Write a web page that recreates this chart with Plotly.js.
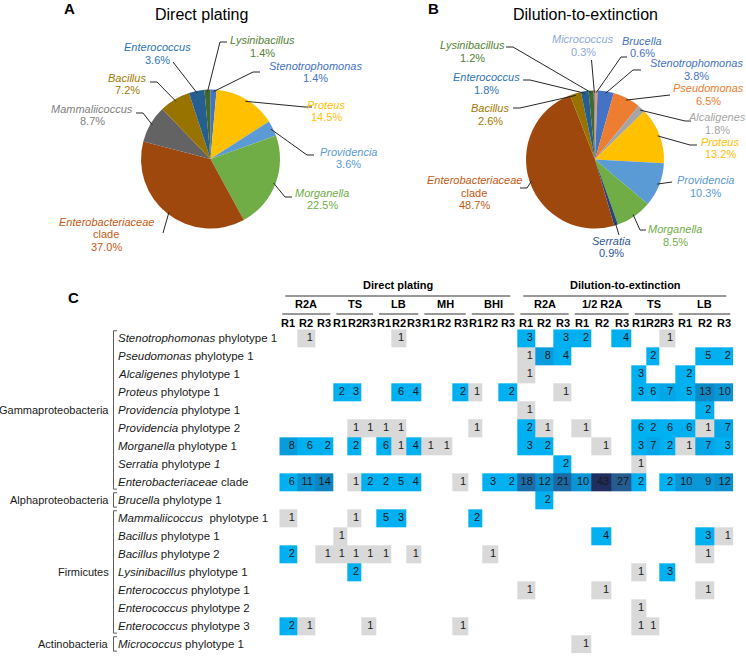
<!DOCTYPE html>
<html><head><meta charset="utf-8">
<script src="https://cdn.plot.ly/plotly-3.0.1.min.js"></script>
<style>html,body{margin:0;padding:0;background:#fff;} #chart{width:746px;height:656px;}</style>
</head><body><div id="chart"></div>
<script>
// ================= DATA =================
// Pie A: Direct plating (% of isolates), clockwise from 12 o'clock
const pieALabels = ['Stenotrophomonas','Proteus','Providencia','Morganella','Enterobacteriaceae','Mammaliicoccus','Bacillus','Enterococcus','Lysinibacillus'];
const pieAValues = [1.4, 14.5, 3.6, 22.5, 37.0, 8.7, 7.2, 3.6, 1.4];
// Pie B: Dilution-to-extinction
const pieBLabels = ['Brucella','Stenotrophomonas','Pseudomonas','Alcaligenes','Proteus','Providencia','Morganella','Serratia','Enterobacteriaceae','Bacillus','Enterococcus','Lysinibacillus','Micrococcus'];
const pieBValues = [0.6, 3.8, 6.5, 1.8, 13.2, 10.3, 8.5, 0.9, 48.7, 2.6, 1.8, 1.2, 0.3];

// Heatmap columns
const methods = ['Direct plating','Dilution-to-extinction'];
const media = ['R2A','TS','LB','MH','BHI','R2A','1/2 R2A','TS','LB'];
const mediaMethod = [0,0,0,0,0,1,1,1,1];
const replicates = ['R1','R2','R3'];

// Heatmap rows
const rowGenus = ['Stenotrophomonas','Pseudomonas','Alcaligenes','Proteus','Providencia','Providencia','Morganella','Serratia','Enterobacteriaceae','Brucella','Mammaliicoccus','Bacillus','Bacillus','Lysinibacillus','Enterococcus','Enterococcus','Enterococcus','Micrococcus'];
const rowSuffix = [' phylotype 1',' phylotype 1',' phylotype 1',' phylotype 1',' phylotype 1',' phylotype 2',' phylotype 1',' phylotype <i>1</i>',' clade',' phylotype 1','  phylotype 1',' phylotype 1',' phylotype 2',' phylotype 1',' phylotype 1',' phylotype 2',' phylotype 3',' phylotype 1'];
const phyla = ['Gammaproteobacteria','Alphaproteobacteria','Firmicutes','Actinobacteria'];
const phylumFirstRow = [0, 9, 10, 17];
const phylumLastRow  = [8, 9, 16, 17];

// counts (rows x 27 columns; 0 = empty)
const counts = [
  [0,1,0, 0,0,0, 0,1,0, 0,0,0, 0,0,0, 3,0,3, 2,0,4, 0,0,1, 0,0,0],
  [0,0,0, 0,0,0, 0,0,0, 0,0,0, 0,0,0, 1,8,4, 0,0,0, 0,2,0, 0,5,2],
  [0,0,0, 0,0,0, 0,0,0, 0,0,0, 0,0,0, 1,0,0, 0,0,0, 3,0,0, 2,0,0],
  [0,0,0, 2,3,0, 0,6,4, 0,0,2, 1,0,2, 0,0,1, 0,0,0, 3,6,7, 5,13,10],
  [0,0,0, 0,0,0, 0,0,0, 0,0,0, 0,0,0, 1,0,0, 0,0,0, 0,0,0, 0,2,0],
  [0,0,0, 0,1,1, 1,1,0, 0,0,0, 1,0,0, 2,1,0, 1,0,0, 6,2,6, 6,1,7],
  [8,6,2, 0,2,0, 6,1,4, 1,1,0, 0,0,0, 3,2,0, 0,1,0, 3,7,2, 1,7,3],
  [0,0,0, 0,0,0, 0,0,0, 0,0,0, 0,0,0, 0,0,2, 0,0,0, 1,0,0, 0,0,0],
  [6,11,14, 0,1,2, 2,5,4, 0,0,1, 0,3,2, 18,12,21, 10,43,27, 2,0,2, 10,9,12],
  [0,0,0, 0,0,0, 0,0,0, 0,0,0, 0,0,0, 0,2,0, 0,0,0, 0,0,0, 0,0,0],
  [1,0,0, 0,1,0, 5,3,0, 0,0,0, 2,0,0, 0,0,0, 0,0,0, 0,0,0, 0,0,0],
  [0,0,0, 1,0,0, 0,0,0, 0,0,0, 0,0,0, 0,0,0, 0,4,0, 0,0,0, 0,3,1],
  [2,0,1, 1,1,1, 1,0,1, 0,0,0, 0,1,0, 0,0,0, 0,0,0, 0,0,0, 0,1,0],
  [0,0,0, 0,2,0, 0,0,0, 0,0,0, 0,0,0, 0,0,0, 0,0,0, 1,0,3, 0,0,0],
  [0,0,0, 0,0,0, 0,0,0, 0,0,0, 0,0,0, 1,0,0, 0,1,0, 0,0,0, 0,1,0],
  [0,0,0, 0,0,0, 0,0,0, 0,0,0, 0,0,0, 0,0,0, 0,0,0, 1,0,0, 0,0,0],
  [2,1,0, 0,0,1, 0,0,0, 0,0,1, 0,0,0, 0,0,0, 0,0,0, 1,1,0, 0,0,0],
  [0,0,0, 0,0,0, 0,0,0, 0,0,0, 0,0,0, 0,0,0, 1,0,0, 0,0,0, 0,0,0]
];

// ================= STYLE / LAYOUT =================
const W = 746, H = 656;
const FONT = 'Arial, "Liberation Sans", sans-serif';
const sliceColor = {
  Stenotrophomonas:'#4472C4', Pseudomonas:'#ED7D31', Alcaligenes:'#A5A5A5', Proteus:'#FFC000',
  Providencia:'#5B9BD5', Morganella:'#70AD47', Serratia:'#264478', Enterobacteriaceae:'#9E480E',
  Mammaliicoccus:'#636363', Bacillus:'#997300', Enterococcus:'#255E91', Lysinibacillus:'#43682B',
  Micrococcus:'#698ED0', Brucella:'#F1975A'
};
const labelColor = {
  Stenotrophomonas:'#4472C4', Pseudomonas:'#ED7D31', Alcaligenes:'#A5A5A5', Proteus:'#FFC000',
  Providencia:'#5B9BD5', Morganella:'#70AD47', Serratia:'#2F5597', Enterobacteriaceae:'#C55A11',
  Mammaliicoccus:'#7F7F7F', Bacillus:'#A07A00', Enterococcus:'#2E75B6', Lysinibacillus:'#548235',
  Micrococcus:'#8FAADC', Brucella:'#4472C4'
};
// pie geometry (pixels)
const pieA = {cx:210.5, cy:159, r:69.5};
const pieB = {cx:595, cy:159.5, r:69};
// label placement (pixels): [centre x, first-line y, leader tail x, tail y, elbow length]
const pieALabelPos = {
  Stenotrophomonas:[315,66, 253,72, 7], Proteus:[326,105, 305,107, 7], Providencia:[348,152, 307,155, 7],
  Morganella:[322,193, 285,197, 7], Enterobacteriaceae:[106,222, 163,233, 0], Mammaliicoccus:[92,109, 143,113, -7],
  Bacillus:[127,78, 157,82, -7], Enterococcus:[157,47, 173,62, 0], Lysinibacillus:[262,40, 220,42, 7]
};
const pieBLabelPos = {
  Brucella:[642,40.5, 621,57, 6], Stenotrophomonas:[696,63, 633,70, 8], Pseudomonas:[708,88.5, 670,95, 0],
  Alcaligenes:[717,117.5, 685,121, 6], Proteus:[720,141.5, 690,145, 7], Providencia:[705,180, 672,182, 0],
  Morganella:[675,229, 640,230, 6], Serratia:[611,240.5, 619,235, 0], Enterobacteriaceae:[474,180, 527,188, -7],
  Bacillus:[490,108, 520,108, -7], Enterococcus:[486,77, 530,80, -7], Lysinibacillus:[472,45, 513,47, -7],
  Micrococcus:[583,39.5, 591.5,60, 0]
};
const LINE_STEP = 12.5;
// heatmap column edges (pixels; table geometry)
const COL_EDGES = [279.3,297.3,315.3,333.3,347.3,361.7,376,391.7,406.7,421.3,436.3,452.3,468.7,482.7,498.7,517.3,535.3,553.3,571.7,591.7,611.7,631.7,646.7,659,675.7,695,714,733.3];
const GRID_TOP = 329.3, GRID_BOTTOM = 653.3;

const px = x => x / W;
const py = y => 1 - y / H;

// ================= BUILD =================
const data = [];
const annotations = [];
const shapes = [];

function addPie(labels, values, geo) {
  data.push({
    type:'pie', labels:labels, values:values, sort:false, direction:'clockwise', rotation:0,
    marker:{colors: labels.map(l => sliceColor[l]), line:{width:0}},
    textinfo:'none', hoverinfo:'skip', showlegend:false,
    domain:{x:[px(geo.cx-geo.r), px(geo.cx+geo.r)], y:[py(geo.cy+geo.r), py(geo.cy-geo.r)]}
  });
}
function addPieLabels(labels, values, geo, pos) {
  const total = values.reduce((a,b)=>a+b,0);
  let cum = 0;
  labels.forEach((l,i) => {
    const f = values[i]/total;
    const th = 2*Math.PI*(cum + f/2);
    cum += f;
    const tipX = geo.cx + geo.r*0.97*Math.sin(th);
    const tipY = geo.cy - geo.r*0.97*Math.cos(th);
    const p = pos[l];
    const lines = ['<i>' + l + '</i>'];
    if (l === 'Enterobacteriaceae') lines.push('clade');
    lines.push(values[i].toFixed(1) + '%');
    lines.forEach((t, k) => {
      annotations.push({xref:'paper', yref:'paper', x:px(p[0]), y:py(p[1] + k*LINE_STEP), text:t,
        showarrow:false, xanchor:'center', yanchor:'middle',
        font:{family:FONT, size:11, color:labelColor[l]}});
    });
    let path = `M ${px(p[2])},${py(p[3])} L ${px(tipX)},${py(tipY)}`;
    if (p[4]) path = `M ${px(p[2]+p[4])},${py(p[3])} L ${px(p[2])},${py(p[3])} L ${px(tipX)},${py(tipY)}`;
    shapes.push({type:'path', xref:'paper', yref:'paper', path:path, line:{color:'#262626', width:1}});
  });
}
addPie(pieALabels, pieAValues, pieA);
addPie(pieBLabels, pieBValues, pieB);
addPieLabels(pieALabels, pieAValues, pieA, pieALabelPos);
addPieLabels(pieBLabels, pieBValues, pieB, pieBLabelPos);

// Titles & panel letters
function txt(x, y, t, size, bold, anchor, color) {
  annotations.push({xref:'paper', yref:'paper', x:px(x), y:py(y), text: bold ? '<b>'+t+'</b>' : t,
    showarrow:false, xanchor:anchor||'center', yanchor:'middle',
    font:{family:FONT, size:size, color:color||'#000'}});
}
txt(201, 15, 'Direct plating', 16, false);
txt(585, 15, 'Dilution-to-extinction', 16, false);
txt(69, 9, 'A', 15, true);
txt(433, 9, 'B', 15, true);
txt(73, 297, 'C', 15, true);

// Heatmap
const nCols = COL_EDGES.length - 1;
const zHeat = counts.map(r => r.map(v => v === 0 ? null : v));
const rowIdx = counts.map((_, i) => i);
data.push({
  type:'heatmap', x: COL_EDGES, y: rowIdx, z: zHeat, xaxis:'x', yaxis:'y',
  zmin:1, zmax:43, showscale:false, hoverinfo:'skip', xgap:0, ygap:0,
  colorscale:[[0,'#D9D9D9'],[0.012,'#D9D9D9'],[0.0121,'#00B0F0'],[0.12,'#00B0F0'],[0.17,'#0A9BDC'],
              [0.26,'#0A90CF'],[0.31,'#0D85C2'],[0.40,'#1A6EAB'],[0.48,'#1B69A5'],[0.62,'#255C92'],[1,'#1F2D5F']]
});
// numbers (right-aligned in cells)
const tX = [], tY = [], tT = [];
counts.forEach((r, i) => r.forEach((v, j) => {
  if (v !== 0) { tX.push(COL_EDGES[j+1] - 2.5); tY.push(i); tT.push(String(v)); }
}));
data.push({type:'scatter', mode:'text', x:tX, y:tY, text:tT, textposition:'middle left',
  textfont:{family:FONT, size:11, color:'#1a1a1a'}, xaxis:'x', yaxis:'y', hoverinfo:'skip',
  showlegend:false, cliponaxis:false});

// column headers
const colCenter = j => (COL_EDGES[j] + COL_EDGES[j+1]) / 2;
for (let j = 0; j < nCols; j++) {
  annotations.push({xref:'x', yref:'paper', x:colCenter(j), y:py(322.5), text:'<b>'+replicates[j%3]+'</b>',
    showarrow:false, xanchor:'center', yanchor:'middle', font:{family:FONT, size:11, color:'#000'}});
}
media.forEach((m, g) => {
  const a = COL_EDGES[g*3], b = COL_EDGES[g*3+3];
  annotations.push({xref:'x', yref:'paper', x:(a+b)/2, y:py(304.5), text:'<b>'+m+'</b>',
    showarrow:false, xanchor:'center', yanchor:'middle', font:{family:FONT, size:11, color:'#000'}});
  shapes.push({type:'line', xref:'x', yref:'paper', x0:a+3, x1:b-3, y0:py(314), y1:py(314), line:{color:'#333', width:1}});
});
methods.forEach((m, k) => {
  const gs = mediaMethod.map((v,i)=>v===k?i:-1).filter(i=>i>=0);
  const a = COL_EDGES[gs[0]*3], b = COL_EDGES[gs[gs.length-1]*3+3];
  annotations.push({xref:'x', yref:'paper', x:(a+b)/2, y:py(285), text:'<b>'+m+'</b>',
    showarrow:false, xanchor:'center', yanchor:'middle', font:{family:FONT, size:11, color:'#000'}});
  shapes.push({type:'line', xref:'x', yref:'paper', x0:a+6, x1:b-7, y0:py(296), y1:py(296), line:{color:'#333', width:1}});
});

// row labels
rowGenus.forEach((g, i) => {
  annotations.push({xref:'paper', yref:'y', x:px(116), y:i, text:'<i>'+g+'</i>'+rowSuffix[i],
    showarrow:false, xanchor:'left', yanchor:'middle', font:{family:FONT, size:11.5, color:'#1a1a1a'}});
});
// phylum labels and brackets
phyla.forEach((p, k) => {
  const a = phylumFirstRow[k], b = phylumLastRow[k];
  annotations.push({xref:'paper', yref:'y', x:px(111), y:(a+b)/2, text:p,
    showarrow:false, xanchor:'right', yanchor:'middle', font:{family:FONT, size:11, color:'#1a1a1a'}});
  const x0 = px(117), x1 = px(113.5), y0 = a - 0.42, y1 = b + 0.38;
  shapes.push({type:'path', xref:'paper', yref:'y',
    path:`M ${x0},${y0} L ${x1},${y0} L ${x1},${y1} L ${x0},${y1}`, line:{color:'#333', width:0.8}});
});

const layout = {
  width:W, height:H, margin:{l:0, r:0, t:0, b:0}, paper_bgcolor:'#fff', plot_bgcolor:'rgba(0,0,0,0)',
  showlegend:false,
  xaxis:{domain:[px(COL_EDGES[0]), px(COL_EDGES[nCols])], range:[COL_EDGES[0], COL_EDGES[nCols]],
         visible:false, showgrid:false, zeroline:false, fixedrange:true},
  yaxis:{domain:[py(GRID_BOTTOM), py(GRID_TOP)], range:[counts.length-0.5, -0.5],
         visible:false, showgrid:false, zeroline:false, fixedrange:true},
  annotations:annotations, shapes:shapes, font:{family:FONT}
};
Plotly.newPlot('chart', data, layout, {staticPlot:true, displayModeBar:false});
</script>
</body></html>
